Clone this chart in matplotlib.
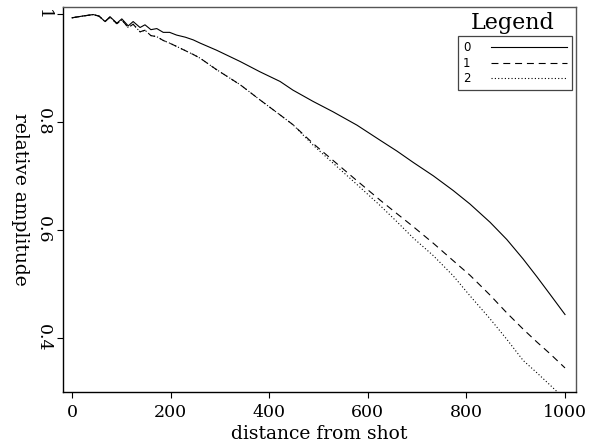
import matplotlib
matplotlib.use("Agg")
import matplotlib.pyplot as plt

plt.rcParams["font.family"] = "DejaVu Serif"
plt.rcParams["lines.scale_dashes"] = False

# values
distance = [0, 20, 43, 55, 67, 77, 91, 101, 114, 124, 138, 148, 160, 172,
            185, 198, 212, 230, 246, 260, 293, 341, 381, 422, 448, 489,
            529, 578, 625, 659, 692, 733, 773, 807, 848, 882, 915, 943,
            970, 1000]

amp_0 = [0.993, 0.996, 0.999, 0.996, 0.986, 0.995, 0.983, 0.991, 0.978,
         0.986, 0.975, 0.980, 0.971, 0.973, 0.966, 0.966, 0.961, 0.957,
         0.952, 0.946, 0.933, 0.912, 0.893, 0.875, 0.859, 0.838, 0.819,
         0.794, 0.766, 0.746, 0.725, 0.700, 0.673, 0.648, 0.614, 0.582,
         0.546, 0.513, 0.480, 0.443]

amp_1 = [0.993, 0.996, 0.999, 0.996, 0.986, 0.994, 0.982, 0.989, 0.975,
         0.981, 0.967, 0.970, 0.960, 0.958, 0.951, 0.946, 0.940, 0.932,
         0.925, 0.918, 0.897, 0.869, 0.841, 0.813, 0.795, 0.760, 0.729,
         0.691, 0.655, 0.630, 0.606, 0.575, 0.543, 0.516, 0.479, 0.446,
         0.416, 0.392, 0.370, 0.344]

amp_2 = [0.993, 0.996, 0.999, 0.996, 0.986, 0.994, 0.982, 0.989, 0.975,
         0.981, 0.967, 0.970, 0.960, 0.958, 0.951, 0.946, 0.940, 0.932,
         0.925, 0.918, 0.897, 0.869, 0.841, 0.813, 0.795, 0.757, 0.724,
         0.684, 0.645, 0.615, 0.585, 0.552, 0.515, 0.478, 0.435, 0.397,
         0.358, 0.335, 0.312, 0.286]

series_labels = ["0", "1", "2"]
x_ticks = [0, 200, 400, 600, 800, 1000]
y_ticks = [0.4, 0.6, 0.8, 1.0]
y_tick_labels = ["0.4", "0.6", "0.8", "1"]

fig = plt.figure(figsize=(5.92, 4.42), dpi=100)
ax = fig.add_axes([63 / 592, 50 / 442, 513 / 592, 385 / 442])

styles = [
    dict(linestyle="-"),
    dict(linestyle="--", dashes=(5, 3.5)),
    dict(linestyle=":", dashes=(0.8, 1.6)),
]
handles = []
for values, label, style in zip([amp_0, amp_1, amp_2], series_labels, styles):
    (line,) = ax.plot(distance, values, color="black", linewidth=0.8,
                      label=label, **style)
    handles.append(line)

ax.set_xlim(-18.3, 1022.3)
ax.set_ylim(0.2994, 1.013)
ax.set_xticks(x_ticks)
ax.set_xticklabels([str(t) for t in x_ticks])
ax.set_yticks(y_ticks)
ax.set_yticklabels(y_tick_labels, rotation=-90, va="center")

ax.tick_params(axis="both", direction="out", length=4.3, width=0.8,
               labelsize=12.5, pad=4)
ax.set_xlabel("distance from shot", fontsize=13.5, labelpad=3)
ax.set_ylabel("relative amplitude", fontsize=13.5, rotation=-90,
              va="top", labelpad=4)

for side in ["left", "bottom"]:
    ax.spines[side].set_color("black")
    ax.spines[side].set_linewidth(1.0)
for side in ["top", "right"]:
    ax.spines[side].set_color("#555555")
    ax.spines[side].set_linewidth(1.0)

legend = ax.legend(handles=handles, labels=series_labels,
                   loc="upper right", bbox_to_anchor=(0.9922, 0.9247),
                   borderaxespad=0, markerfirst=False, fancybox=False,
                   framealpha=1, edgecolor="#444444", handlelength=6.45,
                   handletextpad=1.7, borderpad=0.45, labelspacing=0.2,
                   prop={"family": "DejaVu Sans", "size": 8.5})
legend.get_frame().set_linewidth(0.9)

ax.text(0.876, 0.942, "Legend", transform=ax.transAxes, ha="center",
        va="baseline", fontsize=16)

fig.savefig("out.png", dpi=100)
